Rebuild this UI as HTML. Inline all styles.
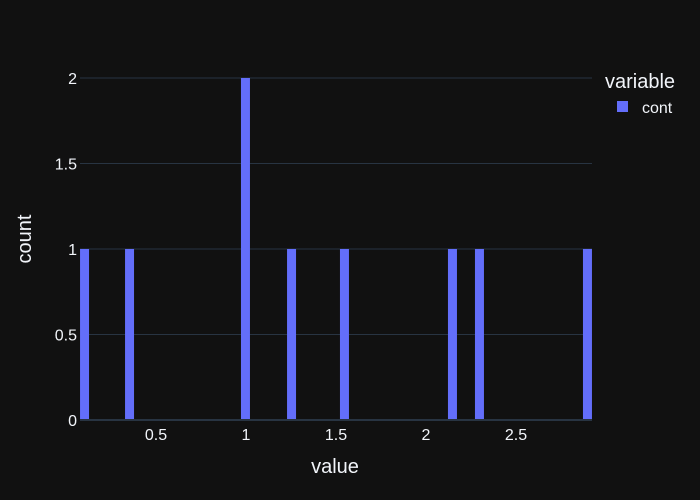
<!DOCTYPE html>
<html><head><meta charset="utf-8"><style>
body{margin:0;background:#111111;}
svg{display:block;font-family:"Liberation Sans",sans-serif;}
</style></head><body>
<svg id="chart" width="700" height="500">
<rect width="700" height="500" fill="#111111"/>
<g id="grid"></g><g id="bars"></g><g id="axes"></g>
<text x="335" y="473" fill="#f2f5fa" font-size="20" text-anchor="middle">value</text>
<text x="0" y="0" transform="translate(31,239) rotate(-90)" fill="#f2f5fa" font-size="20" text-anchor="middle">count</text>
<text x="605" y="88" fill="#f2f5fa" font-size="20">variable</text>
<g>
<rect x="617" y="101" width="11" height="11" fill="#636efa"/>
<text x="642" y="113" fill="#f2f5fa" font-size="16">cont</text>
</g>
</svg>
<script>
const binStarts=[0.078,0.328,0.972,1.228,1.522,2.122,2.272,2.872];
const counts=[1,1,2,1,1,1,1,1];
const binWidth=0.05;
const xTicks=[0.5,1,1.5,2,2.5];
const xTickLabels=["0.5","1","1.5","2","2.5"];
const yTicks=[0,0.5,1,1.5,2];
const yTickLabels=["0","0.5","1","1.5","2"];
const NS="http://www.w3.org/2000/svg";
const L=80,R=592,T=78,B=420;
const xs=v=>66+v*180;
const ys=v=>B-v*(B-T)/2;
function mk(t,a,p){const e=document.createElementNS(NS,t);for(const k in a)e.setAttribute(k,a[k]);p.appendChild(e);return e;}
const grid=document.getElementById('grid'),bars=document.getElementById('bars'),axes=document.getElementById('axes');
yTicks.forEach((v,i)=>{
  if(v!==0){const g=mk('line',{x1:L,x2:R,y1:ys(v),y2:ys(v),stroke:'#283442','stroke-width':1},grid);
  
  }
  const t=mk('text',{x:L-3,y:ys(v)+6,fill:'#f2f5fa','font-size':16,'text-anchor':'end'},axes);
  t.textContent=yTickLabels[i];
  
  
});
binStarts.forEach((s,i)=>{
  const x0=xs(s),x1=xs(s+binWidth);
  const r=mk('rect',{x:x0,y:ys(counts[i]),width:x1-x0,height:B-ys(counts[i]),fill:'#636efa'},bars);
  
  
});
const z=mk('line',{x1:L,x2:R,y1:B,y2:B,stroke:'#283442','stroke-width':2},axes);


xTicks.forEach((v,i)=>{
  const t=mk('text',{x:xs(v),y:440,fill:'#f2f5fa','font-size':16,'text-anchor':'middle'},axes);
  t.textContent=xTickLabels[i];
  
  
});
</script>
</body></html>
